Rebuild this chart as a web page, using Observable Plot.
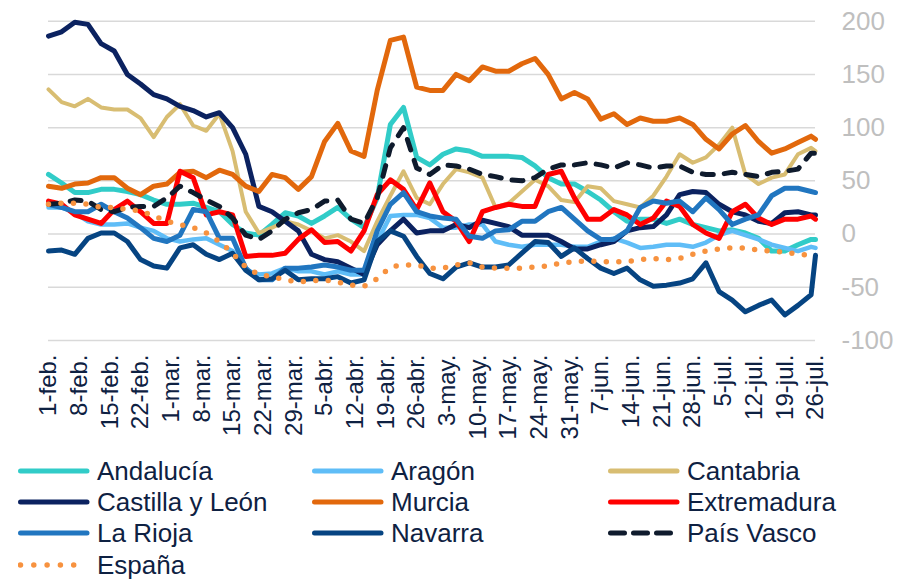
<!DOCTYPE html>
<html><head><meta charset="utf-8">
<script src="https://cdn.jsdelivr.net/npm/d3@7"></script>
<script src="https://cdn.jsdelivr.net/npm/@observablehq/plot@0.6"></script>
<style>
body{margin:0;background:#fff;font-family:"Liberation Sans",Arial,sans-serif;}
#wrap{position:relative;width:898px;height:580px;overflow:hidden;background:#fff}
#chart svg{display:block}
#legend{position:absolute;left:0;top:455px;width:898px;height:125px}
.item{position:absolute;display:flex;align-items:center;height:31.5px;font-size:26px;color:#0e2142;white-space:nowrap;line-height:1}
.item svg{margin-right:7px;flex:none}
</style></head><body><div id="wrap"><div id="chart"></div><div id="legend"></div></div>
<script>
// day offsets from 1-feb
const days = [0,3,6,9,12,15,18,21,24,27,30,33,36,39,42,45,48,51,54,57,60,63,66,69,72,75,78,81,84,87,90,93,96,99,102,105,108,111,114,117,120,123,126,129,132,135,138,141,144,147,150,153,156,159,162,165,168,171,174,175];

const andalucia = [56,48,39,39,42,42,40,37,32,28, 28,29,25,21,9,1,-1,9,20,17, 10,17,25,14,6,34,103,119,72,65, 75,80,78,73,73,73,72,64,53,47, 47,40,32,21,12,14,14,10,14,9, 6,3,4,1,-4,-16,-16,-10,-5,-5];
const aragon = [25,25,20,12,9,9,10,6,3,-4, -7,-5,-4,-10,-16,-34,-38,-37,-32,-35, -35,-38,-35,-38,-38,-7,17,18,18,15, 6,6,9,9,-7,-10,-12,-10,-10,-10, -12,-12,-7,-4,-8,-13,-12,-10,-10,-12, -8,-1,3,-1,-5,-10,-13,-16,-12,-13];
const cantabria = [136,124,120,127,119,117,117,109,91,110, 122,102,97,113,78,21,1,6,12,9, 3,-4,-1,-7,-16,12,36,59,34,28, 47,61,58,53,25,29,40,51,45,32, 30,45,43,31,28,25,36,54,75,67, 72,84,100,56,47,53,56,75,81,78];
const castillaLeon = [186,190,199,197,179,172,150,141,131,127, 120,116,110,114,100,75,26,21,12,3, -19,-24,-26,-32,-38,-10,3,14,1,3, 3,9,6,13,10,7,-1,-1,-1,-7, -14,-14,-10,-7,3,6,7,18,37,40, 39,28,21,18,12,10,20,21,18,18];
const murcia = [45,43,47,48,53,53,43,37,45,47, 58,59,53,60,56,45,40,56,53,42, 54,87,104,78,73,135,182,185,138,135, 135,150,144,157,153,153,160,165,150,127, 133,127,108,113,103,109,106,106,109,103, 89,80,94,102,87,76,80,86,92,89];
const extremadura = [31,28,18,14,10,23,31,21,10,10, 59,53,18,21,18,-21,-20,-20,-18,-5, 4,-8,-7,-16,3,37,51,42,23,48, 21,12,-7,21,25,28,26,26,56,59, 34,14,14,23,18,9,15,31,26,9, 1,-4,21,28,15,9,14,14,17,14];
const laRioja = [28,25,21,21,28,21,15,6,-4,-7, -1,23,21,-4,-4,-32,-43,-43,-32,-32, -31,-29,-31,-34,-34,3,28,39,21,17, 15,14,-2,-4,3,4,12,12,21,25, 14,3,-5,-5,3,25,31,29,31,21, 34,23,9,14,18,36,43,43,40,39];
const navarra = [-16,-15,-19,-4,1,1,-7,-24,-30,-32, -13,-10,-19,-24,-18,-34,-43,-42,-34,-43, -42,-42,-40,-46,-43,-7,3,-2,-21,-37, -42,-31,-27,-31,-31,-29,-18,-7,-8,-21, -13,-23,-32,-37,-32,-43,-49,-48,-46,-42, -27,-54,-62,-73,-67,-62,-76,-67,-57,-20];
const paisVasco = [28,29,32,31,23,21,25,26,26,34, 45,39,32,26,15,-1,-5,3,14,20, 23,31,32,14,10,34,81,100,62,56, 65,64,61,56,54,51,50,53,61,65, 65,67,65,62,67,65,62,64,64,58, 56,56,58,56,54,58,59,61,76,76];
const espana = [28,29,29,28,25,25,23,22,17,12, 9,6,1,-7,-18,-31,-38,-40,-43,-45, -44,-43,-45,-48,-49,-42,-31,-29,-29,-32, -32,-29,-27,-31,-32,-32,-32,-31,-30,-27, -26,-25,-26,-26,-26,-24,-23,-24,-23,-19, -16,-14,-13,-13,-15,-16,-17,-19,-20,-20];

const seriesNames = ["Andalucía","Aragón","Cantabria","Castilla y León","Murcia","Extremadura","La Rioja","Navarra","País Vasco","España"];
const seriesValues = [andalucia, aragon, cantabria, castillaLeon, murcia, extremadura, laRioja, navarra, paisVasco, espana];
const seriesColors = ["#31ccc8","#5fbdf7","#d8bd72","#0b2260","#e2680c","#ff0000","#2176c0","#064482","#0f1b2d","#f7923f"];
const seriesWidths = [5,4.5,4,5,5,5,5,5,5,5.5];
const seriesDash = [null,null,null,null,null,null,null,null,"11 11","0 12.5"];

const tickLabels = ["1-feb.","8-feb.","15-feb.","22-feb.","1-mar.","8-mar.","15-mar.","22-mar.","29-mar.","5-abr.","12-abr.","19-abr.","26-abr.","3-may.","10-may.","17-may.","24-may.","31-may.","7-jun.","14-jun.","21-jun.","28-jun.","5-jul.","12-jul.","19-jul.","26-jul."];
const yTicks = [-100,-50,0,50,100,150,200];

const startDate = Date.UTC(2021,1,1);
const DAY = 864e5;
const toDate = d => new Date(startDate + d*DAY);
const tickDates = tickLabels.map((_, i) => toDate(i*7));

const rows = seriesNames.map((name, s) => days.map((d, i) => ({name, date: toDate(d), value: seriesValues[s][i]})));

const chart = Plot.plot({
  width: 898, height: 455,
  marginLeft: 48, marginRight: 83, marginTop: 20.7, marginBottom: 115,
  style: {fontFamily: '"Liberation Sans", Arial, sans-serif', background: "white", overflow: "visible"},
  x: {type: "utc", domain: [toDate(0), toDate(175)]},
  y: {domain: [-100, 200]},
  marks: [
    Plot.gridY(yTicks, {stroke: "#d9d9d9", strokeOpacity: 1, strokeWidth: 1.5}),
    Plot.axisY(yTicks, {anchor: "right", label: null, tickSize: 0, tickPadding: 26, textAnchor: "start",
      tickFormat: d => String(d), fontSize: 26, fill: "#bfbfbf"}),
    Plot.axisX(tickDates, {anchor: "bottom", label: null, tickSize: 0, tickPadding: 14, tickRotate: -90, textAnchor: "end",
      tickFormat: d => tickLabels[Math.round((+d - startDate) / (7*DAY))], fontSize: 24, fill: "#0e2142"}),
    ...rows.map((data, s) => Plot.lineY(data, {x: "date", y: "value", stroke: seriesColors[s], strokeWidth: seriesWidths[s],
      strokeDasharray: seriesDash[s] ?? undefined, strokeLinecap: "round", strokeLinejoin: "round"}))
  ]
});
document.getElementById("chart").appendChild(chart);

// legend
const legend = document.getElementById("legend");
const colX = [18, 312, 608];
seriesNames.forEach((name, i) => {
  const item = document.createElement("div");
  item.className = "item";
  item.style.left = colX[i % 3] + "px";
  item.style.top = (Math.floor(i / 3) * 31.3) + "px";
  const ns = "http://www.w3.org/2000/svg";
  const svg = document.createElementNS(ns, "svg");
  svg.setAttribute("width", 72); svg.setAttribute("height", 10);
  const line = document.createElementNS(ns, "line");
  line.setAttribute("x1", 2.5); line.setAttribute("x2", 69); line.setAttribute("y1", 5); line.setAttribute("y2", 5);
  line.setAttribute("stroke", seriesColors[i]);
  line.setAttribute("stroke-width", seriesDash[i] === "0 12.5" ? 5.5 : 5);
  line.setAttribute("stroke-linecap", "round");
  if (seriesDash[i]) line.setAttribute("stroke-dasharray", seriesDash[i] === "0 12.5" ? "0 13.3" : "14 9");
  svg.appendChild(line);
  item.appendChild(svg);
  const span = document.createElement("span");
  span.textContent = name;
  item.appendChild(span);
  legend.appendChild(item);
});
</script></body></html>
